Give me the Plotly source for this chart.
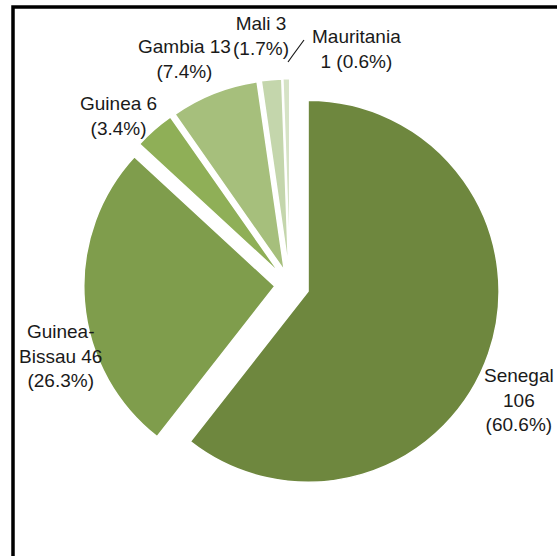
import plotly.graph_objects as go

countries = ["Senegal", "Guinea-Bissau", "Guinea", "Gambia", "Mali", "Mauritania"]
counts = [106, 46, 6, 13, 3, 1]
percents = ["60.6%", "26.3%", "3.4%", "7.4%", "1.7%", "0.6%"]
label_texts = [
    "Senegal<br>106<br>(60.6%)",
    "Guinea-<br>Bissau 46<br>(26.3%)",
    "Guinea 6<br>(3.4%)",
    "Gambia 13<br>(7.4%)",
    "Mali 3<br>(1.7%)",
    "Mauritania<br>1 (0.6%)",
]
colors = ["#6E873E", "#7F9D4C", "#8FAF57", "#A6BF7C", "#C4D6AC", "#D6E3C6"]
pulls = [0.1, 0.08, 0.08, 0.08, 0.08, 0.08]

W, H = 557, 556
cx, cy, r = 290, 285, 191
half = r * (1 + max(pulls))

fig = go.Figure()
fig.add_trace(go.Pie(
    labels=countries,
    values=counts,
    sort=False,
    direction="clockwise",
    rotation=0,
    pull=pulls,
    textinfo="none",
    hoverinfo="label+value+percent",
    marker=dict(colors=colors, line=dict(color="white", width=1.5)),
    showlegend=False,
    domain=dict(x=[(cx - half) / W, (cx + half) / W],
                y=[(H - cy - half) / H, (H - cy + half) / H]),
))

# label positions (pixel centres)
label_pos = [(519, 400), (60, 356), (118, 116), (184, 59), (261, 36), (356, 49)]
for txt, (lx, ly) in zip(label_texts, label_pos):
    fig.add_annotation(
        text=txt, x=lx / W, y=1 - ly / H, xref="paper", yref="paper",
        showarrow=False, xanchor="center", yanchor="middle", align="center",
        font=dict(family="Liberation Sans, Arial, sans-serif", size=19, color="#1a1a1a"),
    )

def px(x, y):
    return x / W, 1 - y / H

shapes = []
# frame lines as paths in paper coordinates
fl, ft = 13 / W, 1 - 7 / H
shapes.append(dict(type="path", xref="paper", yref="paper",
                   path=f"M {fl},0 L {fl},{ft} L 1.02,{ft}",
                   line=dict(color="black", width=3.5), layer="above"))
# leader line for Mauritania
a = px(288, 62); b = px(293, 55); c = px(304, 40)
shapes.append(dict(type="path", xref="paper", yref="paper",
                   path=f"M {a[0]},{a[1]} L {b[0]},{b[1]} L {c[0]},{c[1]}",
                   line=dict(color="#1a1a1a", width=1.2)))

fig.update_layout(
    width=W, height=H, autosize=False,
    margin=dict(l=0, r=0, t=0, b=0),
    paper_bgcolor="white", plot_bgcolor="white",
    shapes=shapes,
)

fig.write_html("out.html",
               config={"displayModeBar": False},
               post_script="document.body.style.margin='0';document.body.style.overflow='hidden';")
